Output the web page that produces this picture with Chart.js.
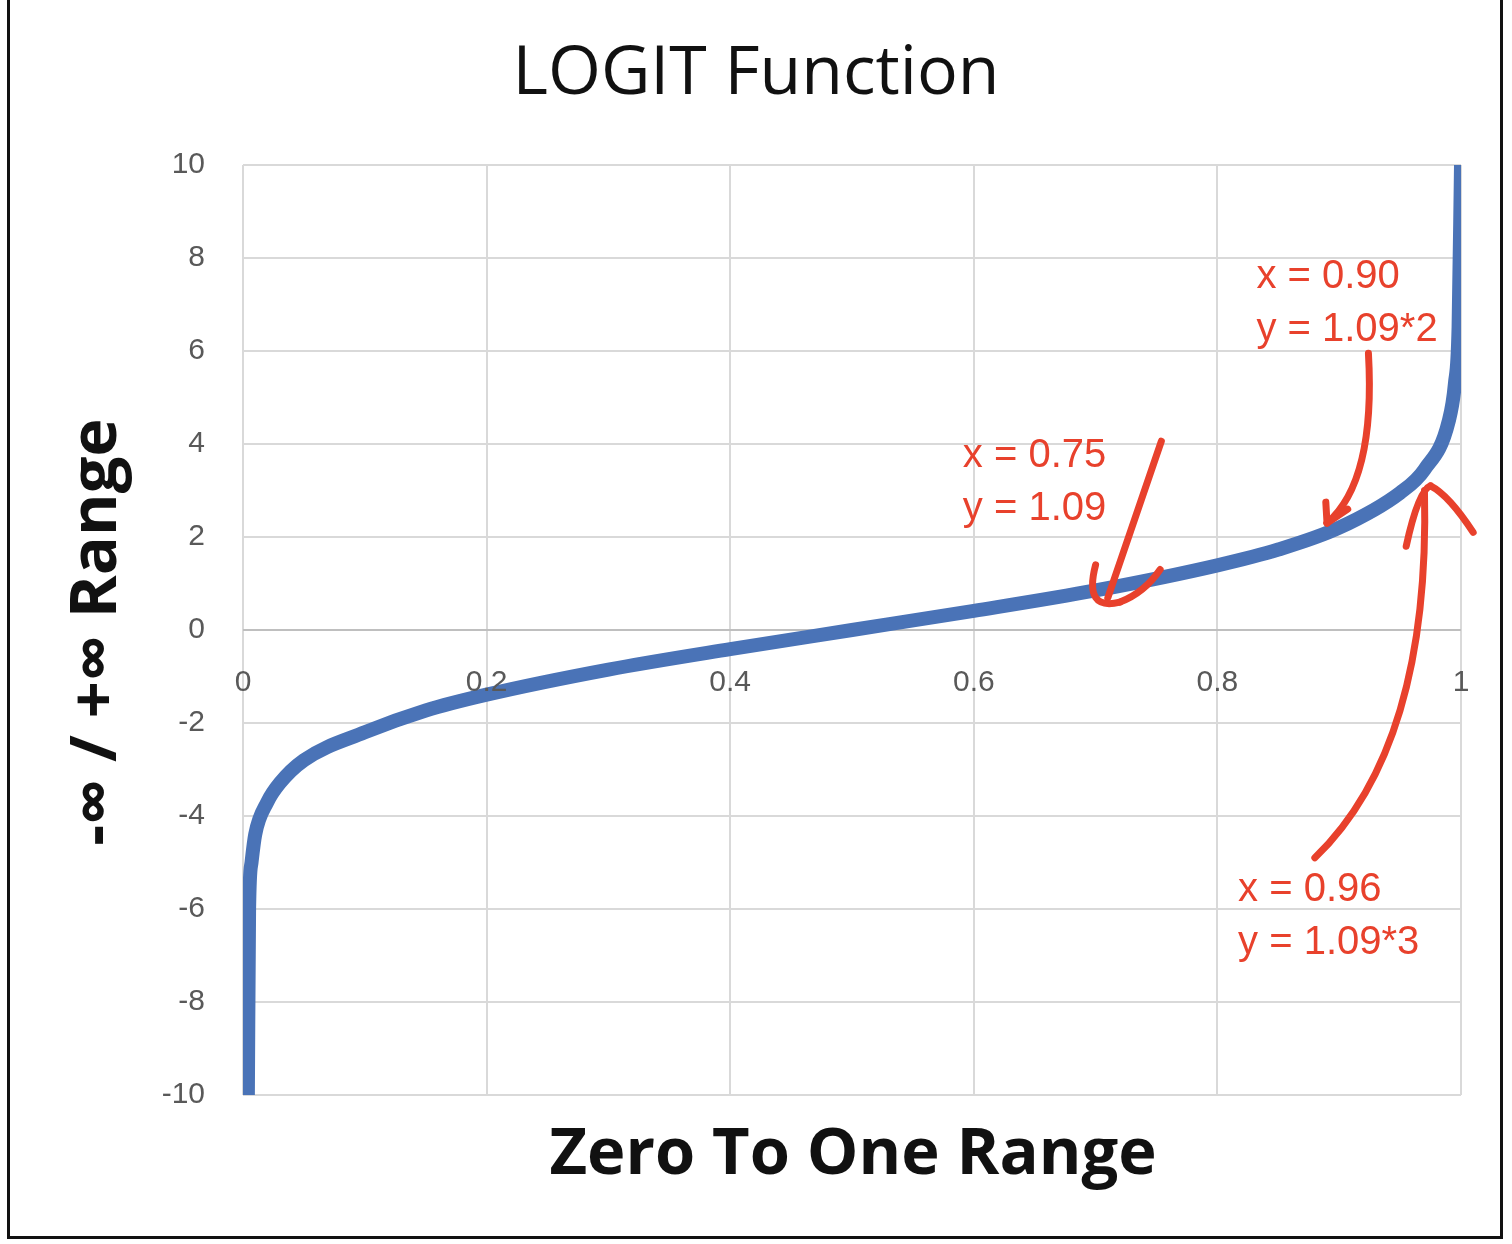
<!DOCTYPE html>
<html><head><meta charset="utf-8">
<script src="https://cdn.jsdelivr.net/npm/chart.js@4"></script>
<style>
html,body{margin:0;padding:0;background:#fff;}
#wrap{position:relative;width:1512px;height:1244px;}
#frame{position:absolute;left:7px;top:-3px;width:1496px;height:1242px;border:3px solid #111;box-sizing:border-box;pointer-events:none;}
</style></head>
<body><div id="wrap"><canvas id="c" width="1512" height="1244"></canvas><div id="frame"></div></div>
<script>
// values
const xs = [0.004,0.005,0.007,0.01,0.02,0.03,0.05,0.1,0.15,0.2,0.3,0.4,0.5,0.6,0.7,0.8,0.85,0.9,0.95,0.97,0.99,0.995,0.998,1.0];
const ys = [-10,-6,-5,-4.4,-3.7,-3.3,-2.8,-2.2,-1.73,-1.39,-0.85,-0.41,0,0.41,0.85,1.39,1.73,2.2,2.95,3.45,4.5,5.3,6.5,10];
const xTicks = [0,0.2,0.4,0.6,0.8,1];
const yTicks = [-10,-8,-6,-4,-2,0,2,4,6,8,10];
const notes = [
  {lines:["x = 0.75","y = 1.09"], x:0.591, y:3.75},
  {lines:["x = 0.90","y = 1.09*2"], x:0.832, y:7.6},
  {lines:["x = 0.96","y = 1.09*3"], x:0.817, y:-5.6}
];
const RED = '#e8412c';
const annot = {
  id:'annot',
  afterDraw(ch){
    const c=ch.ctx, X=ch.scales.x, Y=ch.scales.y;
    const P=(x,y)=>[X.getPixelForValue(x),Y.getPixelForValue(y)];
    c.save();
    c.fillStyle='#595959'; c.font='30px "Liberation Sans"'; c.textAlign='center'; c.textBaseline='middle';
    xTicks.forEach(t=>{const [px,py]=P(t,0); c.fillText(String(t),px,py+53);});
    c.fillStyle='#111'; c.font='68px "Open Sans"'; c.textAlign='center';
    c.fillText('LOGIT Function',756,75);
    c.font='bold 65px "Open Sans"';
    c.fillText('Zero To One Range',853,1155);
    c.save(); c.translate(97,632); c.rotate(-Math.PI/2); c.fillText('-∞ / +∞ Range',0,0); c.restore();
    c.fillStyle=RED; c.font='40px "Liberation Sans"'; c.textAlign='left';
    notes.forEach(n=>{const [px,py]=P(n.x,n.y); n.lines.forEach((l,i)=>c.fillText(l,px,py+i*53));});
    c.strokeStyle=RED; c.lineWidth=7; c.lineCap='round'; c.lineJoin='round';
    const path=pts=>{c.beginPath(); pts.forEach((p,i)=>{const q=P(p[0],p[1]); i?c.lineTo(q[0],q[1]):c.moveTo(q[0],q[1]);}); c.stroke();};
    const curve=(a,b,d)=>{const A=P(...a),B=P(...b),D=P(...d);c.beginPath();c.moveTo(A[0],A[1]);c.quadraticCurveTo(B[0],B[1],D[0],D[1]);c.stroke();};
    path([[0.754,4.06],[0.71,0.69]]);
    curve([0.7,1.4],[0.69,0.4],[0.72,0.6]); curve([0.72,0.6],[0.74,0.8],[0.753,1.3]);
    curve([0.924,5.95],[0.93,3.2],[0.89,2.3]);
    path([[0.89,2.3],[0.907,2.6]]); path([[0.89,2.3],[0.889,2.75]]);
    curve([0.88,-4.9],[0.975,-2.5],[0.97,3.0]);
    curve([0.955,1.8],[0.965,3.0],[0.975,3.1]); curve([0.975,3.1],[0.99,2.9],[1.01,2.1]);
    c.restore();
  }
};
new Chart(document.getElementById('c'),{
  type:'scatter',
  data:{datasets:[{data:xs.map((x,i)=>({x,y:ys[i]})),showLine:true,borderColor:'#4a73b7',borderWidth:14,pointRadius:0,cubicInterpolationMode:'monotone',fill:false}]},
  options:{
    responsive:false,animation:false,
    layout:{padding:{top:165,right:51,left:0,bottom:0}},
    plugins:{legend:{display:false},tooltip:{enabled:false},title:{display:false}},
    scales:{
      x:{type:'linear',min:0,max:1,afterBuildTicks:s=>{s.ticks=xTicks.map(v=>({value:v}));},
        ticks:{display:false},grid:{color:'#d9d9d9',lineWidth:2,drawTicks:false},border:{display:false},
        afterFit:s=>{s.height=149;}},
      y:{min:-10,max:10,afterBuildTicks:s=>{s.ticks=yTicks.map(v=>({value:v}));},
        ticks:{color:'#595959',font:{family:'Liberation Sans',size:30},padding:38},
        grid:{color:c=>c.tick&&c.tick.value===0?'#bfbfbf':'#d9d9d9',lineWidth:2,drawTicks:false},border:{display:false},
        afterFit:s=>{s.width=243;}}
    }
  },
  plugins:[annot]
});
</script></body></html>
